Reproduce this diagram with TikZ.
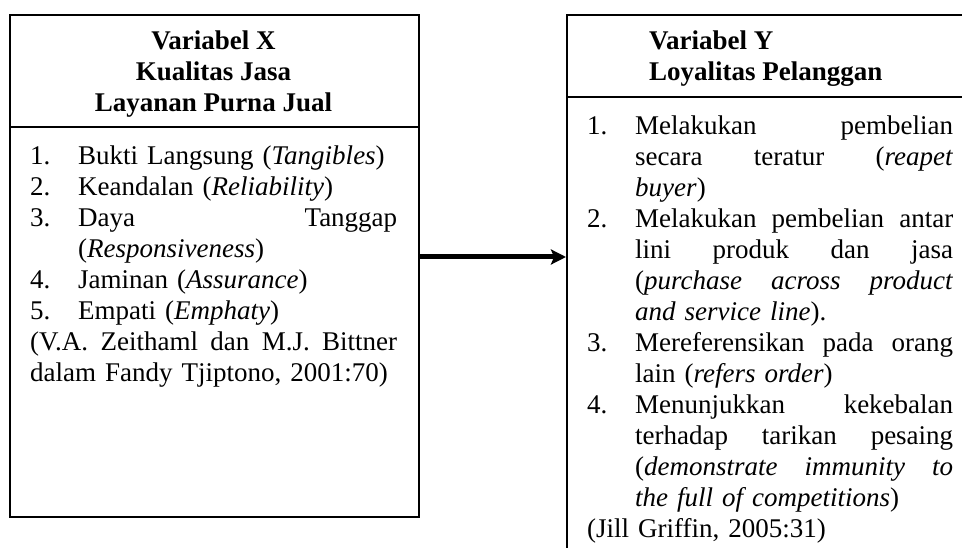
\documentclass[tikz,border=0pt]{standalone}
\usepackage{fontspec}
\setmainfont{Liberation Serif}
\usetikzlibrary{arrows.meta}
\newcommand\xstr{\spaceskip=.25em plus 1fil\relax}
\newcommand\xnj[2]{\noindent\makebox[48pt][l]{#1}\hbox to \dimexpr\linewidth-48pt\relax{\xstr #2}\par}
\newcommand\xnl[2]{\noindent\makebox[48pt][l]{#1}#2\par}
\newcommand\xcj[1]{\noindent\hspace*{48pt}\hbox to \dimexpr\linewidth-48pt\relax{\xstr #1}\par}
\newcommand\xcl[1]{\noindent\hspace*{48pt}#1\par}
\newcommand\xfj[1]{\noindent\hbox to \linewidth{\xstr #1}\par}
\newcommand\xfl[1]{\noindent #1\par}
\begin{document}
\begin{tikzpicture}[x=1pt,y=-1pt,
  box/.style={draw,line width=2pt,rectangle,anchor=north west,inner sep=0pt},
  body/.style={anchor=base west,inner sep=0pt,font=\fontsize{27}{31}\selectfont},
  ttl/.style={inner sep=0pt,font=\fontsize{27}{31}\selectfont\bfseries},
  arr/.style={line width=5pt,-{Stealth[length=15pt,width=15pt,inset=3pt]}}]
\useasboundingbox (0,0) rectangle (962,548);
\clip (0,0) rectangle (962,548);
% boxes
\node[box,minimum width=409pt,minimum height=502pt] (boxX) at (9,14) {};
\node[box,minimum width=420pt,minimum height=580pt] (boxY) at (566,14) {};
\coordinate (hx) at (0,127);
\coordinate (hy) at (0,97);
\draw[line width=2pt] (boxX.west |- hx) -- (boxX.east |- hx);
\draw[line width=2pt] (boxY.west |- hy) -- (boxY.east |- hy);
% titles
\node[ttl,anchor=base] (tX) at (213.5,50) {\begin{tabular}[t]{@{}c@{}}Variabel X\\Kualitas Jasa\\Layanan Purna Jual\end{tabular}};
\node[ttl,anchor=base west] (tY) at (649,50) {\begin{tabular}[t]{@{}l@{}}Variabel Y\\Loyalitas Pelanggan\end{tabular}};
% bodies
\node[body,text width=367pt] (bX) at (30,165) {%
\xnl{1.}{Bukti Langsung (\textit{Tangibles})}
\xnl{2.}{Keandalan (\textit{Reliability})}
\xnj{3.}{Daya Tanggap}
\xcl{(\textit{Responsiveness})}
\xnl{4.}{Jaminan (\textit{Assurance})}
\xnl{5.}{Empati (\textit{Emphaty})}
\xfj{(V.A. Zeithaml dan M.J. Bittner}
\xfl{dalam Fandy Tjiptono, 2001:70)}};
\node[body,text width=366pt] (bY) at (587,135) {%
\xnj{1.}{Melakukan pembelian}
\xcj{secara teratur (\textit{reapet}}
\xcl{\textit{buyer})}
\xnj{2.}{Melakukan pembelian antar}
\xcj{lini produk dan jasa}
\xcj{(\textit{purchase across product}}
\xcl{\textit{and service line}).}
\xnj{3.}{Mereferensikan pada orang}
\xcl{lain (\textit{refers order})}
\xnj{4.}{Menunjukkan kekebalan}
\xcj{terhadap tarikan pesaing}
\xcj{(\textit{demonstrate immunity to}}
\xcl{\textit{the full of competitions})}
\xfl{(Jill Griffin, 2005:31)}};
% arrow
\coordinate (ay) at (0,257);
\draw[arr] (boxX.east |- ay) -- (boxY.west |- ay);
\end{tikzpicture}
\end{document}
